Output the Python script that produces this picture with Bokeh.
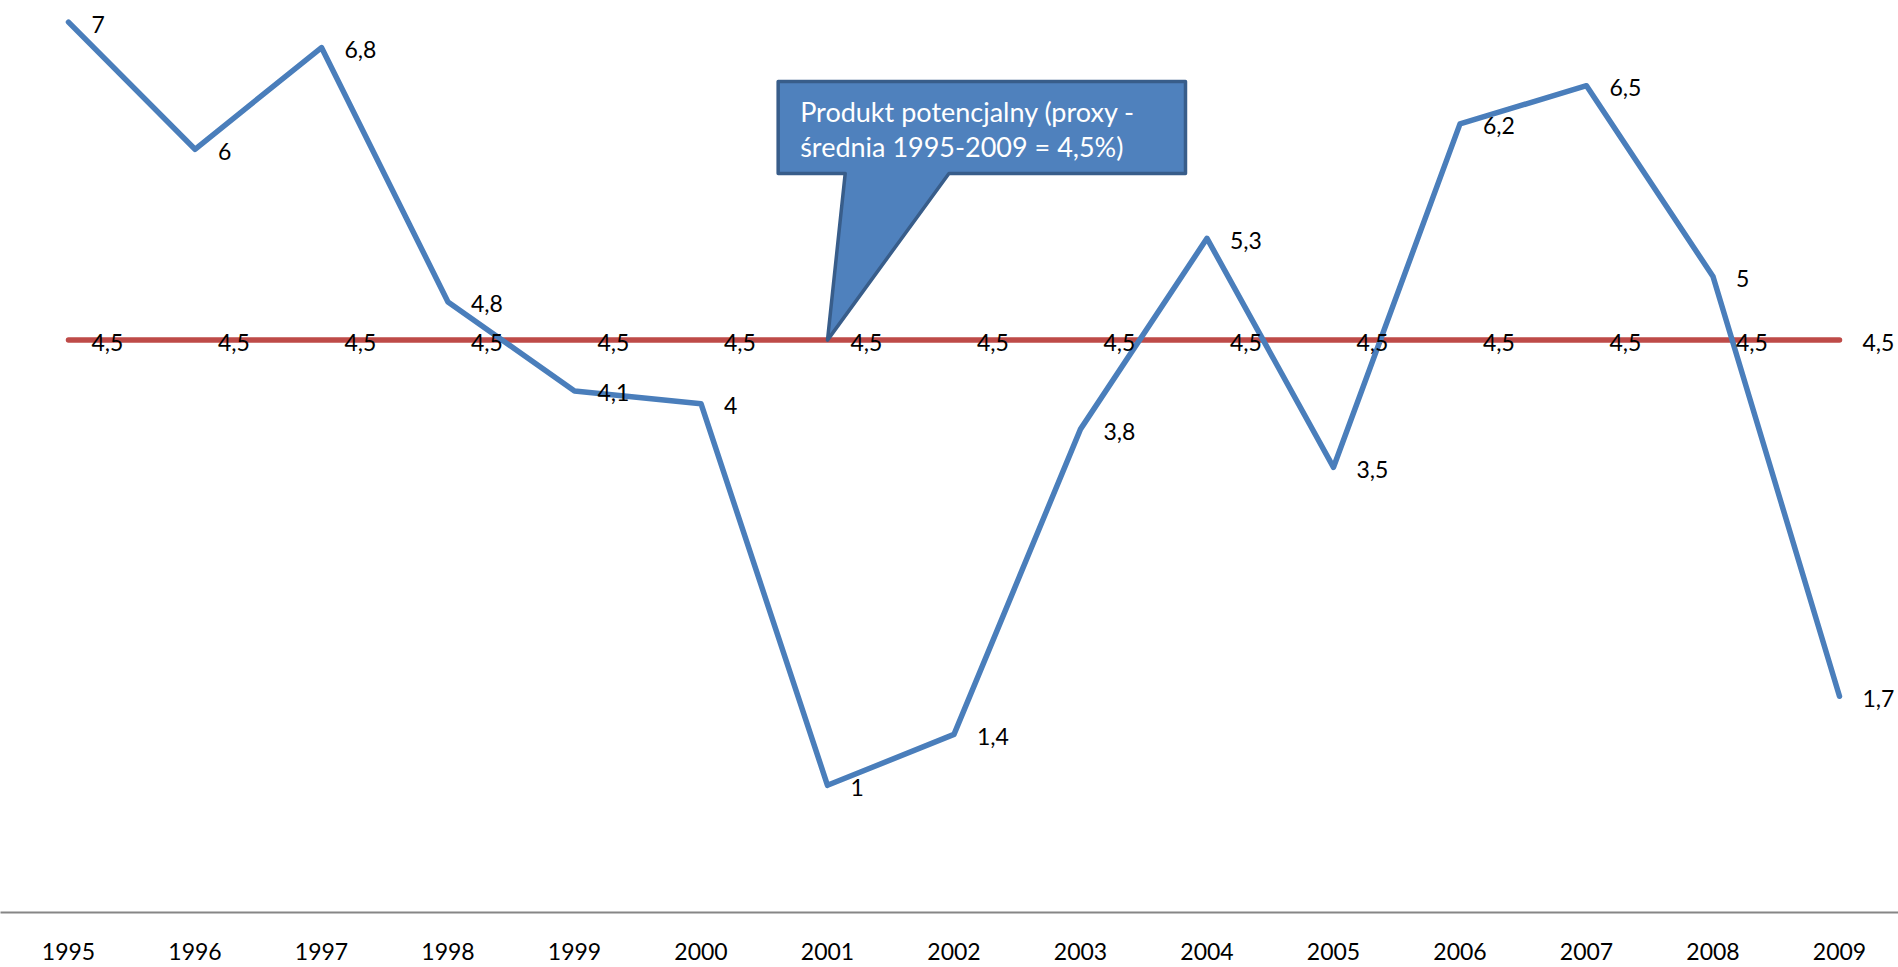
from bokeh.plotting import figure
from bokeh.models import FixedTicker, ColumnDataSource
from bokeh.core.properties import value
from bokeh.embed import file_html
from bokeh.resources import INLINE

# ---- data ----
years = [1995, 1996, 1997, 1998, 1999, 2000, 2001, 2002, 2003, 2004, 2005, 2006, 2007, 2008, 2009]
gdp_growth = [7, 6, 6.8, 4.8, 4.1, 4, 1, 1.4, 3.8, 5.3, 3.5, 6.2, 6.5, 5, 1.7]
potential = [4.5] * 15
tick_labels = [str(y) for y in years]

callout_lines = ["Produkt potencjalny (proxy -", "średnia 1995-2009 = 4,5%)"]
callout_year = 2001


def fmt(v):
    return f"{v:g}".replace(".", ",")


FONT = "Lato"
BLUE = "#4A7EBB"
RED = "#BE4B48"

p = figure(width=1898, height=967, output_backend="svg", toolbar_location=None,
           x_range=(1994.4625, 2009.4664), y_range=(0, 7.1698),
           y_axis_location=None, min_border_left=0, min_border_right=0,
           min_border_top=0, min_border_bottom=55)
p.outline_line_color = None
p.xgrid.visible = False
p.ygrid.visible = False
p.background_fill_color = "white"
p.border_fill_color = "white"

ax = p.xaxis[0]
ax.ticker = FixedTicker(ticks=years)
ax.major_label_overrides = {y: l for y, l in zip(years, tick_labels)}
ax.major_tick_line_color = None
ax.minor_tick_line_color = None
ax.axis_line_color = "#868686"
ax.axis_line_width = 2
ax.major_label_text_font = FONT
ax.major_label_text_font_size = "23px"
ax.major_label_text_color = "black"
ax.major_label_standoff = 24

red_src = ColumnDataSource(dict(x=years, y=potential, t=[fmt(v) for v in potential]))
blue_src = ColumnDataSource(dict(x=years, y=gdp_growth, t=[fmt(v) for v in gdp_growth]))

p.line("x", "y", source=red_src, line_color=RED, line_width=5.5, line_cap="round")
p.line("x", "y", source=blue_src, line_color=BLUE, line_width=5.5, line_cap="round",
       line_join="round")

# callout (annotation shape)
i = years.index(callout_year)
tip_x, tip_y = years[i], potential[i]
L, R, B, T = 2000.61, 2003.83, 5.81, 6.533
b1, b2 = 2001.14, 2001.96
p.patch([L, R, R, b2, tip_x, b1, L], [T, T, B, B, tip_y, B, B],
        fill_color="#4F81BD", line_color="#385D8A", line_width=3.5, line_join="round")
p.text(x=[L, L], y=[6.297, 6.022], text=callout_lines, x_offset=22,
       text_font=value(FONT), text_font_size="27px", text_color="white",
       text_baseline="middle", text_align="left")

for src in (red_src, blue_src):
    p.text("x", "y", text="t", source=src, x_offset=23, y_offset=2,
           text_font=value(FONT), text_font_size="23px", text_color="black",
           text_baseline="middle", text_align="left")

open("out.html", "w").write(file_html(p, INLINE))
